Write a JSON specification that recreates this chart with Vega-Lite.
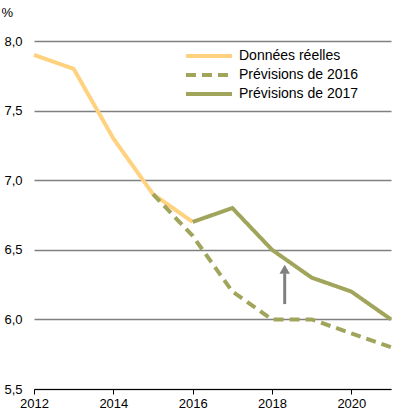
{
  "$schema": "https://vega.github.io/schema/vega-lite/v6.json",
  "width": 357,
  "height": 348,
  "autosize": "none",
  "padding": {"left": 34, "top": 41, "right": 27, "bottom": 29},
  "config": {
    "font": "Liberation Sans",
    "view": {"stroke": null},
    "axis": {"labelFont": "Liberation Sans", "labelFontSize": 13, "labelColor": "#000000", "titleFont": "Liberation Sans"},
    "legend": {"labelFont": "Liberation Sans"}
  },
  "datasets": {
    "lines": [
      {"year": 2012, "value": 7.9, "series": "Données réelles"},
      {"year": 2013, "value": 7.8, "series": "Données réelles"},
      {"year": 2014, "value": 7.3, "series": "Données réelles"},
      {"year": 2015, "value": 6.9, "series": "Données réelles"},
      {"year": 2016, "value": 6.7, "series": "Données réelles"},
      {"year": 2015, "value": 6.9, "series": "Prévisions de 2016"},
      {"year": 2016, "value": 6.6, "series": "Prévisions de 2016"},
      {"year": 2017, "value": 6.2, "series": "Prévisions de 2016"},
      {"year": 2018, "value": 6.0, "series": "Prévisions de 2016"},
      {"year": 2019, "value": 6.0, "series": "Prévisions de 2016"},
      {"year": 2020, "value": 5.9, "series": "Prévisions de 2016"},
      {"year": 2021, "value": 5.8, "series": "Prévisions de 2016"},
      {"year": 2016, "value": 6.7, "series": "Prévisions de 2017"},
      {"year": 2017, "value": 6.8, "series": "Prévisions de 2017"},
      {"year": 2018, "value": 6.5, "series": "Prévisions de 2017"},
      {"year": 2019, "value": 6.3, "series": "Prévisions de 2017"},
      {"year": 2020, "value": 6.2, "series": "Prévisions de 2017"},
      {"year": 2021, "value": 6.0, "series": "Prévisions de 2017"}
    ],
    "arrow": [
      {"year": 2018.32, "from": 6.11, "to": 6.33, "head": 6.36}
    ]
  },
  "layer": [
    {
      "data": {"name": "lines"},
      "mark": {"type": "line", "strokeWidth": 4, "strokeCap": "butt", "strokeJoin": "miter"},
      "encoding": {
        "x": {
          "field": "year", "type": "quantitative",
          "scale": {"domain": [2012, 2021], "nice": false, "zero": false},
          "axis": {
            "title": null,
            "values": [2012, 2013, 2014, 2015, 2016, 2017, 2018, 2019, 2020, 2021],
            "format": "d",
            "labelExpr": "datum.value % 2 == 0 && datum.value < 2021 ? datum.label : ''",
            "grid": false,
            "domainColor": "#000000",
            "domainWidth": 1,
            "tickColor": "#000000",
            "tickSize": 5,
            "labelPadding": 3,
            "labelFlush": false,
            "labelOverlap": false
          }
        },
        "y": {
          "field": "value", "type": "quantitative",
          "scale": {"domain": [5.5, 8.0], "nice": false, "zero": false},
          "axis": {
            "title": "%",
            "titleAngle": 0,
            "titleAlign": "left",
            "titleBaseline": "middle",
            "titleX": -33,
            "titleY": -29,
            "titleFontSize": 13,
            "titleFontWeight": "normal",
            "titleColor": "#000000",
            "values": [5.5, 6.0, 6.5, 7.0, 7.5, 8.0],
            "labelExpr": "replace(format(datum.value, '.1f'), '.', ',')",
            "domain": false,
            "ticks": false,
            "labelPadding": 12,
            "grid": true,
            "gridColor": "#808080",
            "gridWidth": 1.5
          }
        },
        "color": {
          "field": "series", "type": "nominal",
          "scale": {
            "domain": ["Données réelles", "Prévisions de 2016", "Prévisions de 2017"],
            "range": ["#FFD27F", "#A0A55B", "#A0A55B"]
          },
          "legend": {
            "title": null,
            "orient": "none",
            "legendX": 164,
            "legendY": 4,
            "symbolType": "M-2.56,0H2.56",
            "symbolSize": 324,
            "symbolStrokeWidth": 4,
            "symbolFillColor": "transparent",
            "labelFontSize": 14,
            "labelColor": "#000000",
            "labelOffset": 19,
            "rowPadding": 0,
            "symbolOffset": 0
          }
        },
        "strokeDash": {
          "field": "series", "type": "nominal",
          "scale": {
            "domain": ["Données réelles", "Prévisions de 2016", "Prévisions de 2017"],
            "range": [[1, 0], [10, 6], [1, 0]]
          },
          "legend": {
            "title": null,
            "orient": "none",
            "legendX": 164,
            "legendY": 4,
            "symbolType": "M-2.56,0H2.56",
            "symbolSize": 324,
            "symbolStrokeWidth": 4,
            "symbolFillColor": "transparent",
            "labelFontSize": 14,
            "labelColor": "#000000",
            "labelOffset": 19,
            "rowPadding": 0,
            "symbolOffset": 0
          }
        }
      }
    },
    {
      "data": {"name": "arrow"},
      "mark": {"type": "rule", "color": "#808080", "strokeWidth": 3},
      "encoding": {
        "x": {"field": "year", "type": "quantitative"},
        "y": {"field": "from", "type": "quantitative"},
        "y2": {"field": "to"}
      }
    },
    {
      "data": {"name": "arrow"},
      "mark": {"type": "point", "shape": "triangle-up", "filled": true, "color": "#808080", "opacity": 1, "size": 110},
      "encoding": {
        "x": {"field": "year", "type": "quantitative"},
        "y": {"field": "head", "type": "quantitative"}
      }
    }
  ]
}
